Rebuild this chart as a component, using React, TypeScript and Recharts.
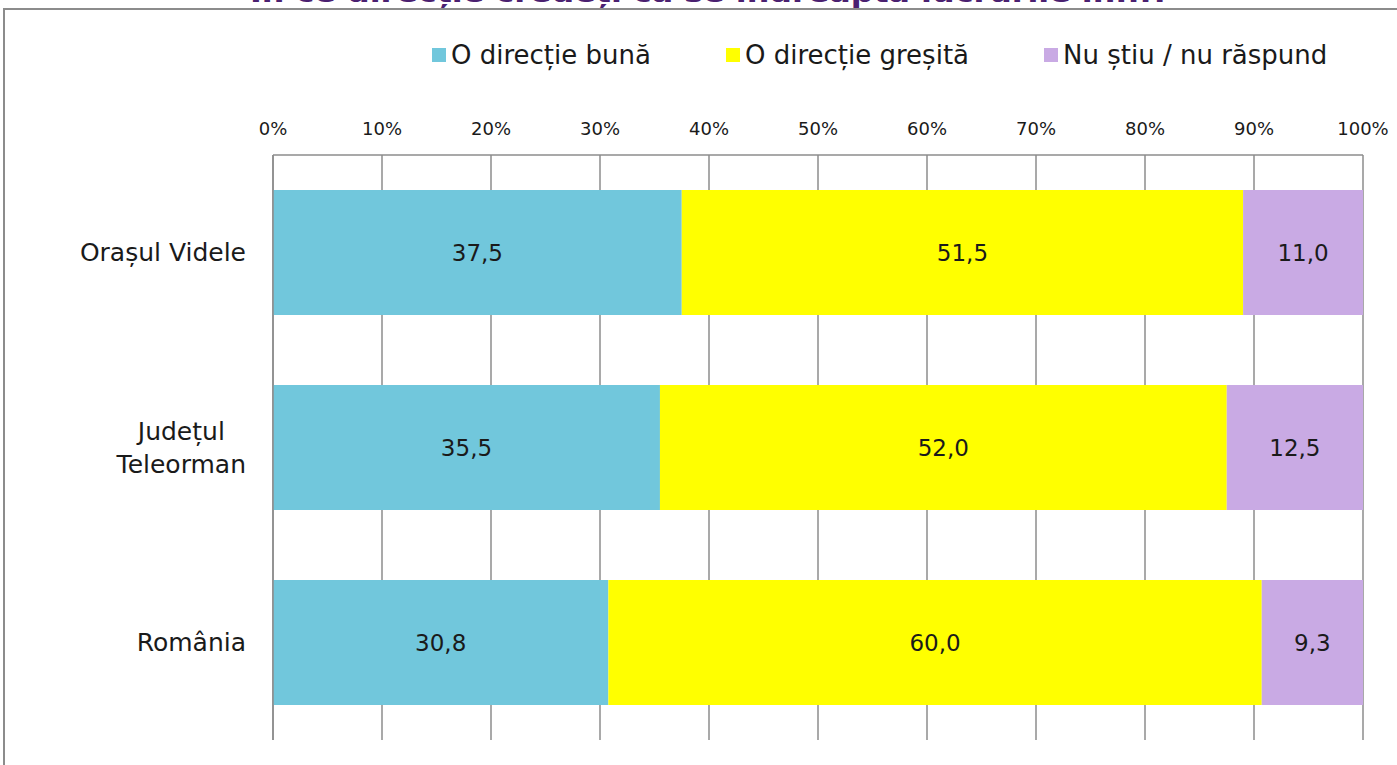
import React from "react";
import { BarChart, Bar, XAxis, YAxis, CartesianGrid, LabelList } from "recharts";

// chart values
const categories = ["Orașul Videle", "Județul\nTeleorman", "România"];
const directieBuna = [37.5, 35.5, 30.8];
const directieGresita = [51.5, 52.0, 60.0];
const nuStiu = [11.0, 12.5, 9.3];
const seriesNames = ["O direcție bună", "O direcție greșită", "Nu știu / nu răspund"];
const seriesKeys = ["buna", "gresita", "nustiu"];
const seriesColors = ["#71c7dc", "#ffff00", "#c9aae4"];
const percentTicks = [0, 0.1, 0.2, 0.3, 0.4, 0.5, 0.6, 0.7, 0.8, 0.9, 1];
const titleText = "În ce direcție credeți că se îndreaptă lucrurile în...?";

const FONT = '"DejaVu Sans", sans-serif';
const TEXT = "#1a1a1a";
const GRID = "#8c8c8c";

const chartData = categories.map((name, i) => ({
  name,
  buna: directieBuna[i],
  gresita: directieGresita[i],
  nustiu: nuStiu[i],
}));

let ctx: CanvasRenderingContext2D | null = null;
function measure(text: string, size: number): number {
  if (!ctx) ctx = document.createElement("canvas").getContext("2d");
  if (!ctx) return text.length * size * 0.6;
  ctx.font = `${size}px "DejaVu Sans"`;
  return ctx.measureText(text).width;
}

/**
 * Category tick: multi-line labels are centred on each other, block right-aligned
 */
function CategoryTick({ x, y, payload }: any) {
  const size = 25;
  const lineH = 33;
  const lines = String(payload.value).split("\n");
  const maxW = Math.max(...lines.map((l) => measure(l, size)));
  const cx = x - maxW / 2;
  const startY = y - ((lines.length - 1) * lineH) / 2;
  return (
    <text textAnchor="middle" fontSize={size} fontFamily={FONT} fill={TEXT}>
      {lines.map((l, i) => (
        <tspan key={i} x={cx} y={startY + i * lineH} dy="0.35em">
          {l}
        </tspan>
      ))}
    </text>
  );
}

const formatValue = (v: any) => Number(v).toFixed(1).replace(".", ",");

export default function App() {
  return (
    <div
      style={{
        position: "fixed",
        top: 0,
        left: 0,
        width: 1397,
        height: 765,
        overflow: "hidden",
        background: "#fff",
        fontFamily: FONT,
      }}
    >
      {/* outer frame, only top and left edges are in view */}
      <div
        style={{
          position: "absolute",
          left: 3,
          top: 8,
          width: 1500,
          height: 900,
          borderLeft: `2px solid ${GRID}`,
          borderTop: `2px solid ${GRID}`,
        }}
      />
      {/* title, cut off by the top of the page as in the source */}
      <svg
        width={1397}
        height={20}
        style={{ position: "absolute", left: 0, top: 0 }}
      >
        <text
          x={710}
          y={2}
          textAnchor="middle"
          fontSize={26}
          fontWeight="bold"
          fontFamily={FONT}
          fill="#4a2070"
          textLength={920}
          lengthAdjust="spacingAndGlyphs"
        >
          {titleText}
        </text>
      </svg>

      {/* legend */}
      <div
        style={{
          position: "absolute",
          left: 432,
          top: 38,
          display: "flex",
          alignItems: "center",
          gap: 75,
          height: 34,
        }}
      >
        {seriesNames.map((name, i) => (
          <div key={name} style={{ display: "flex", alignItems: "center" }}>
            <span
              style={{
                display: "inline-block",
                width: 14,
                height: 14,
                background: seriesColors[i],
                marginRight: 5,
              }}
            />
            <span style={{ fontSize: 26, color: TEXT, whiteSpace: "nowrap" }}>{name}</span>
          </div>
        ))}
      </div>

      <div style={{ position: "absolute", left: 0, top: 0 }}>
        <BarChart
          width={1397}
          height={765}
          data={chartData}
          layout="vertical"
          stackOffset="expand"
          barCategoryGap="18%"
          margin={{ top: 115, right: 34, bottom: 25, left: 0 }}
        >
          <CartesianGrid vertical horizontal={false} stroke={GRID} strokeWidth={1.5} />
          <XAxis
            type="number"
            orientation="top"
            domain={[0, 1]}
            ticks={percentTicks}
            height={40}
            tickFormatter={(v) => `${Math.round(v * 100)}%`}
            axisLine={{ stroke: GRID, strokeWidth: 1.5 }}
            tickLine={false}
            tickSize={0}
            tickMargin={20}
            tick={{ fill: TEXT, fontSize: 18, fontFamily: FONT }}
            interval={0}
          />
          <YAxis
            type="category"
            dataKey="name"
            width={273}
            axisLine={{ stroke: GRID, strokeWidth: 1.5 }}
            tickLine={false}
            tickSize={0}
            tickMargin={27}
            tick={<CategoryTick />}
            interval={0}
          />
          {seriesKeys.map((key, i) => (
            <Bar
              key={key}
              dataKey={key}
              name={seriesNames[i]}
              stackId="a"
              fill={seriesColors[i]}
              isAnimationActive={false}
            >
              <LabelList
                dataKey={key}
                position="center"
                formatter={formatValue}
                fill={TEXT}
                fontSize={23}
                fontFamily={FONT}
              />
            </Bar>
          ))}
        </BarChart>
      </div>
    </div>
  );
}
